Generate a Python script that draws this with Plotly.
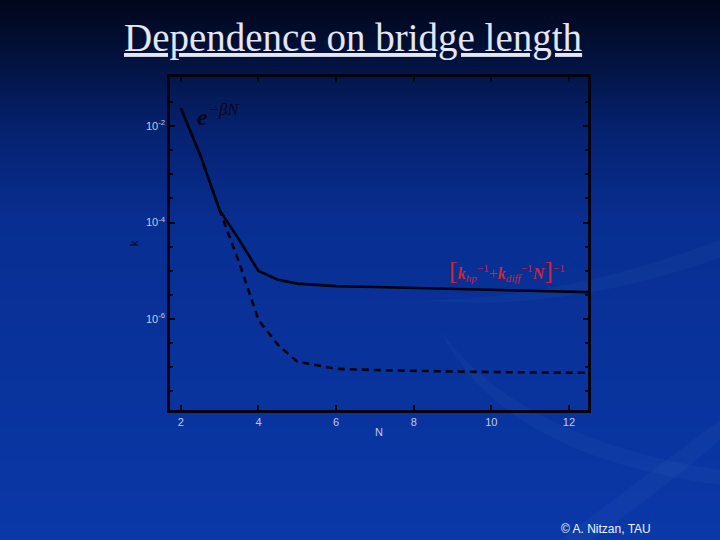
import plotly.graph_objects as go

# ---- data ----
N_vals = [2, 2.5, 3, 3.5, 4, 4.5, 5, 6, 7, 8, 9, 10, 11, 12, 12.5]
k_solid = [2.36e-2, 2.5e-3, 1.8e-4, 4.4e-5, 9.9e-6, 6.5e-6, 5.4e-6, 4.8e-6,
           4.6e-6, 4.4e-6, 4.2e-6, 4.0e-6, 3.8e-6, 3.6e-6, 3.6e-6]
k_dashed = [2.36e-2, 2.5e-3, 1.8e-4, 1.5e-5, 9.5e-7, 2.9e-7, 1.3e-7, 9.2e-8,
            8.7e-8, 8.3e-8, 8.1e-8, 7.9e-8, 7.8e-8, 7.6e-8, 7.6e-8]
x_ticks = [2, 4, 6, 8, 10, 12]
y_ticks = [1e-2, 1e-4, 1e-6]
y_ticktext = ["10<sup>-2</sup>", "10<sup>-4</sup>", "10<sup>-6</sup>"]

W, H = 720, 540

fig = go.Figure()
fig.add_trace(go.Scatter(x=N_vals, y=k_solid, mode="lines",
                         line=dict(color="#03040f", width=2.6), showlegend=False))
fig.add_trace(go.Scatter(x=N_vals, y=k_dashed, mode="lines",
                         line=dict(color="#03040f", width=2.6, dash="7px,5px"),
                         showlegend=False))

# ---- slide background gradient ----
stops = [(0, (1, 6, 26)), (60, (3, 18, 62)), (130, (6, 34, 112)),
         (220, (8, 46, 145)), (540, (10, 56, 168))]
def col(y):
    for (y0, c0), (y1, c1) in zip(stops[:-1], stops[1:]):
        if y0 <= y <= y1:
            t = (y - y0) / (y1 - y0)
            return "rgb(%d,%d,%d)" % tuple(round(a + (b - a) * t) for a, b in zip(c0, c1))
    return "rgb(%d,%d,%d)" % stops[-1][1]

shapes = []
step = 6
for y in range(0, H, step):
    shapes.append(dict(type="rect", xref="paper", yref="paper", layer="below",
                       x0=0, x1=1, y0=1 - (y + step + 1) / H, y1=1 - y / H,
                       fillcolor=col(y + step / 2), line=dict(width=0)))

# decorative swooshes (bottom right)
def P(x, y):
    return "%.4f %.4f" % (x / W, 1 - y / H)
swooshes = [
    ("M " + P(420, 300) + " Q " + P(560, 300) + " " + P(720, 240) + " L " + P(720, 258)
     + " Q " + P(560, 314) + " " + P(420, 300) + " Z", "rgba(110,150,225,0.06)"),
    ("M " + P(440, 330) + " Q " + P(520, 440) + " " + P(720, 470) + " L " + P(720, 485)
     + " Q " + P(500, 455) + " " + P(440, 330) + " Z", "rgba(110,150,225,0.06)"),
    ("M " + P(560, 540) + " Q " + P(640, 480) + " " + P(720, 420) + " L " + P(720, 440)
     + " Q " + P(650, 500) + " " + P(590, 540) + " Z", "rgba(110,150,225,0.05)"),
]
for path, c in swooshes:
    shapes.append(dict(type="path", xref="paper", yref="paper", layer="below",
                       path=path, fillcolor=c, line=dict(width=0)))

axis_font = dict(family="Arial, Liberation Sans, sans-serif", size=11, color="#c3cbdd")

fig.update_layout(
    width=W, height=H,
    margin=dict(l=0, r=0, t=0, b=0),
    paper_bgcolor="#082c8c",
    plot_bgcolor="rgba(0,0,0,0)",
    shapes=shapes,
    xaxis=dict(domain=[170 / W, 588 / W], range=[1.72, 12.49],
               tickvals=x_ticks, ticks="inside", ticklen=5, tickcolor="#03040f",
               tickwidth=1.5, showline=True, linecolor="#03040f", linewidth=2.5,
               mirror="ticks", showgrid=False, zeroline=False, tickfont=axis_font,
               title=dict(text="N", font=axis_font, standoff=2)),
    yaxis=dict(domain=[1 - 410 / H, 1 - 77 / H], type="log", range=[-7.89, -0.98],
               tickvals=y_ticks, ticktext=y_ticktext, ticks="inside", ticklen=5,
               tickcolor="#03040f", tickwidth=1.5,
               minor=dict(ticks="inside", ticklen=3, tickcolor="#03040f",
                          tickvals=[10 ** (-e / 2) for e in range(2, 16)]),
               showline=True, linecolor="#03040f", linewidth=2.5, mirror="ticks",
               showgrid=False, zeroline=False, tickfont=axis_font,
               title=dict(text="k", font=dict(family="Arial", size=11, color="#02030c"),
                          standoff=6)),
    font=dict(family="Arial"),
)

ann = [
    dict(text="<u>Dependence on bridge length</u>", x=353 / W, y=1 - 38 / H,
         font=dict(family="Liberation Serif, Times New Roman, serif", size=39, color="#e4e6f2")),
    dict(text="<i><b>e</b></i><sup><i>−βN</i></sup>", x=218 / W, y=1 - 115 / H,
         font=dict(family="Liberation Serif, Times New Roman, serif", size=24, color="#05061a")),
    dict(text="<span style='font-size:26px'>[</span><b><i>k</i></b><sub><i>hp</i></sub><sup>−1</sup>+<b><i>k</i></b><sub><i>diff</i></sub><sup>−1</sup><b><i>N</i></b><span style='font-size:26px'>]</span><sup>−1</sup>",
         x=507 / W, y=1 - 270 / H,
         font=dict(family="Liberation Serif, Times New Roman, serif", size=16, color="#d0243a")),
    dict(text="© A. Nitzan, TAU", x=606 / W, y=1 - 529 / H,
         font=dict(family="Arial, Liberation Sans, sans-serif", size=12, color="#f2f4fa")),
]
for a in ann:
    fig.add_annotation(xref="paper", yref="paper", showarrow=False,
                       xanchor="center", yanchor="middle", **a)

fig.write_html("out.html", config={"displayModeBar": False},
               post_script="document.body.style.margin='0';document.body.style.overflow='hidden';")
